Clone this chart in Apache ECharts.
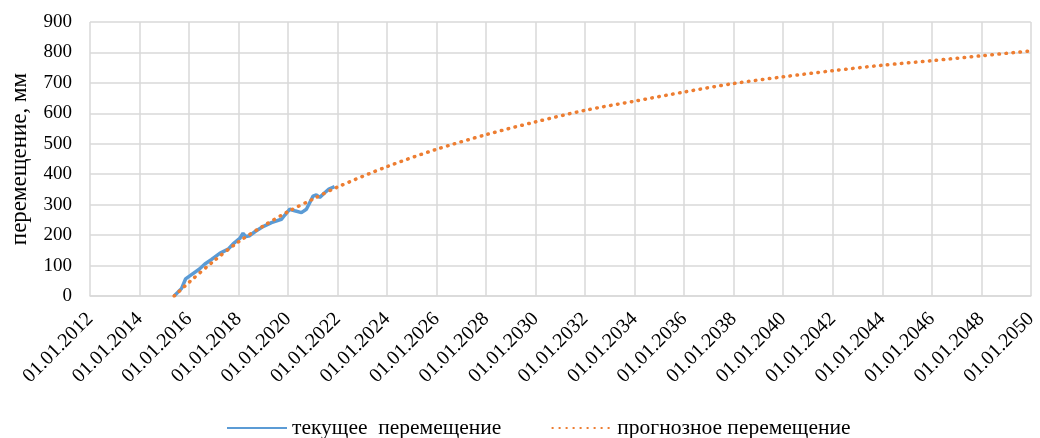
<!DOCTYPE html>
<html>
<head>
<meta charset="utf-8">
<script src="https://cdn.jsdelivr.net/npm/echarts@6/dist/echarts.min.js"></script>
<style>
  html, body { margin: 0; padding: 0; background: #fff; }
  #chart { width: 1040px; height: 438px; }
</style>
</head>
<body>
<div id="chart"></div>
<script>
// текущее перемещение (years as decimal)
var currentYears = [2015.40, 2015.70, 2015.86, 2016.03, 2016.41, 2016.64, 2016.91, 2017.24, 2017.58, 2017.78,
  2018.05, 2018.18, 2018.29, 2018.45, 2018.66, 2018.99, 2019.33, 2019.73, 2019.87, 2020.07,
  2020.27, 2020.54, 2020.74, 2021.01, 2021.14, 2021.28, 2021.48, 2021.65, 2021.88];
var currentValues = [0, 25, 56, 66, 88, 105, 120, 140, 154, 171,
  189, 206, 195, 198, 211, 228, 241, 252, 266, 285,
  280, 274, 285, 328, 332, 324, 339, 351, 359];

// прогнозное перемещение
var forecastYears = [2015.4, 2016, 2017, 2018, 2019, 2020, 2021, 2022, 2024, 2026, 2028, 2030,
  2032, 2034, 2036, 2038, 2040, 2042, 2044, 2046, 2048, 2050];
var forecastValues = [0, 45, 115, 178, 230, 277, 318, 358, 425, 482, 530, 572,
  610, 640, 670, 698, 720, 740, 758, 773, 789, 805];

var xMin = 2012, xMax = 2050, xStep = 2;
var yMin = 0, yMax = 900, yStep = 100;

function pairs(xs, ys) {
  return xs.map(function (x, i) { return [x, ys[i]]; });
}

var chart = echarts.init(document.getElementById('chart'));
var font = 'Liberation Serif';
chart.setOption({
  animation: false,
  grid: { left: 90, right: 8, top: 22, bottom: 142 },
  legend: {
    top: 412,
    left: 221,
    itemWidth: 60,
    itemHeight: 3,
    itemGap: 50,
    itemStyle: { opacity: 0 },
    textStyle: { fontFamily: font, fontSize: 21.5, color: '#000' },
    data: ['текущее  перемещение', 'прогнозное перемещение']
  },
  xAxis: {
    type: 'value',
    min: xMin,
    max: xMax,
    interval: xStep,
    axisLine: { lineStyle: { color: '#d9d9d9', width: 1.5 } },
    axisTick: { show: false },
    splitLine: { show: true, lineStyle: { color: '#d9d9d9', width: 1.5 } },
    axisLabel: {
      rotate: 45,
      margin: 20,
      fontFamily: font,
      fontSize: 20,
      color: '#000',
      formatter: function (v) { return '01.01.' + v; }
    }
  },
  yAxis: {
    type: 'value',
    min: yMin,
    max: yMax,
    interval: yStep,
    name: 'перемещение, мм',
    nameLocation: 'middle',
    nameGap: 59,
    nameTextStyle: { fontFamily: font, fontSize: 23, color: '#000' },
    axisLine: { show: false },
    axisTick: { show: false },
    splitLine: { show: true, lineStyle: { color: '#d9d9d9', width: 1.5 } },
    axisLabel: { margin: 18, fontFamily: font, fontSize: 19, color: '#000' }
  },
  series: [
    {
      name: 'текущее  перемещение',
      type: 'line',
      symbol: 'none',
      z: 3,
      data: pairs(currentYears, currentValues),
      lineStyle: { color: '#5b9bd5', width: 3.5 },
      itemStyle: { color: '#5b9bd5' }
    },
    {
      name: 'прогнозное перемещение',
      type: 'line',
      symbol: 'none',
      smooth: 0.3,
      z: 4,
      data: pairs(forecastYears, forecastValues),
      lineStyle: { color: '#ed7d31', width: 3.5, type: [0.5, 6.5], cap: 'round' },
      itemStyle: { color: '#ed7d31' }
    }
  ]
});
</script>
</body>
</html>
